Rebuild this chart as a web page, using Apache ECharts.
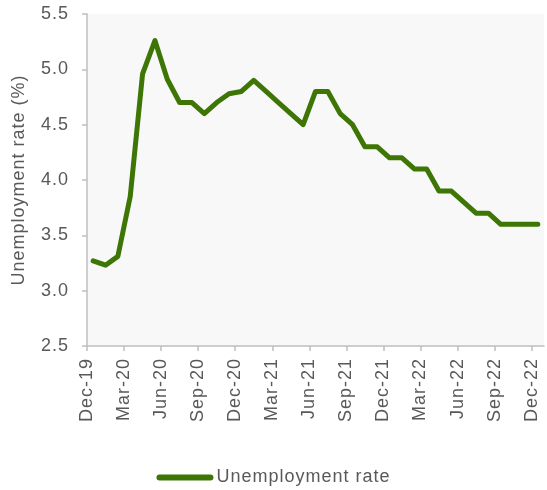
<!DOCTYPE html>
<html>
<head>
<meta charset="utf-8">
<script src="https://cdn.jsdelivr.net/npm/echarts@6/dist/echarts.min.js"></script>
<style>html,body{margin:0;padding:0;background:#fff}#c{width:547px;height:490px}</style>
</head>
<body>
<div id="c"></div>
<script>
const months = ["Dec-19","Jan-20","Feb-20","Mar-20","Apr-20","May-20","Jun-20","Jul-20","Aug-20","Sep-20","Oct-20","Nov-20",
  "Dec-20","Jan-21","Feb-21","Mar-21","Apr-21","May-21","Jun-21","Jul-21","Aug-21","Sep-21","Oct-21","Nov-21",
  "Dec-21","Jan-22","Feb-22","Mar-22","Apr-22","May-22","Jun-22","Jul-22","Aug-22","Sep-22","Oct-22","Nov-22","Dec-22"];
const unemploymentRate = [3.27,3.23,3.31,3.85,4.96,5.26,4.91,4.7,4.7,4.6,4.7,4.78,
  4.8,4.9,4.8,4.7,4.6,4.5,4.8,4.8,4.6,4.5,4.3,4.3,
  4.2,4.2,4.1,4.1,3.9,3.9,3.8,3.7,3.7,3.6,3.6,3.6,3.6];
const labelStep = 3;
const labelPositions = months.map((m,i)=>i).filter(i=>i%labelStep===0);
const yTicks = ["2.5","3.0","3.5","4.0","4.5","5.0","5.5"];

// slightly wider text tracking, like the reference rendering
(function(){
  const P = CanvasRenderingContext2D.prototype;
  if (!('letterSpacing' in P)) return;
  const ft = P.fillText, mt = P.measureText;
  P.fillText = function(){ this.letterSpacing = '1px'; return ft.apply(this, arguments); };
  P.measureText = function(){ this.letterSpacing = '1px'; return mt.apply(this, arguments); };
})();

const font = "'Liberation Sans', Arial, sans-serif";
const grey = '#595959';
const fs = 18;
const chart = echarts.init(document.getElementById('c'), null, {renderer:'canvas'});
chart.setOption({
  animation:false,
  textStyle:{fontFamily:font},
  grid:{left:87,right:3,top:14,bottom:144,show:true,backgroundColor:'#f8f8f8',borderWidth:0,containLabel:false},
  legend:{
    top:463,left:'center',
    icon:'path://M3,0 L54,0 A3,3 0 0 1 54,6 L3,6 A3,3 0 0 1 3,0 Z',
    itemWidth:57,itemHeight:6,itemGap:10,
    textStyle:{color:grey,fontSize:fs,fontFamily:font,padding:[0,0,0,-2]},
    data:['Unemployment rate']
  },
  xAxis:[
    {type:'category',data:months,boundaryGap:true,show:false},
    {type:'value',min:0,max:months.length,position:'bottom',
     axisLine:{show:true,onZero:false,lineStyle:{color:'#bfbfbf',width:1.5}},
     axisTick:{show:true,length:5,customValues:labelPositions,lineStyle:{color:'#bfbfbf',width:1.5}},
     axisLabel:{rotate:90,margin:12,color:grey,fontSize:fs,fontFamily:font,customValues:labelPositions,
       formatter:v=>months[v]||''},
     splitLine:{show:false}}
  ],
  yAxis:{
    type:'value',min:Number(yTicks[0]),max:Number(yTicks[yTicks.length-1]),interval:0.5,
    name:'Unemployment rate (%)',nameLocation:'middle',nameGap:58,
    nameTextStyle:{color:grey,fontSize:fs,fontFamily:font},
    axisLine:{show:true,lineStyle:{color:'#bfbfbf',width:1.5}},
    axisTick:{show:true,length:5,lineStyle:{color:'#bfbfbf',width:1.5}},
    axisLabel:{margin:18,color:grey,fontSize:fs,fontFamily:font,formatter:v=>v.toFixed(1)},
    splitLine:{show:false}
  },
  series:[{
    name:'Unemployment rate',type:'line',xAxisIndex:0,data:unemploymentRate,
    symbol:'none',smooth:false,
    lineStyle:{color:'#3e7606',width:5,cap:'round',join:'round'},
    itemStyle:{color:'#3e7606'}
  }]
});
</script>
</body>
</html>
